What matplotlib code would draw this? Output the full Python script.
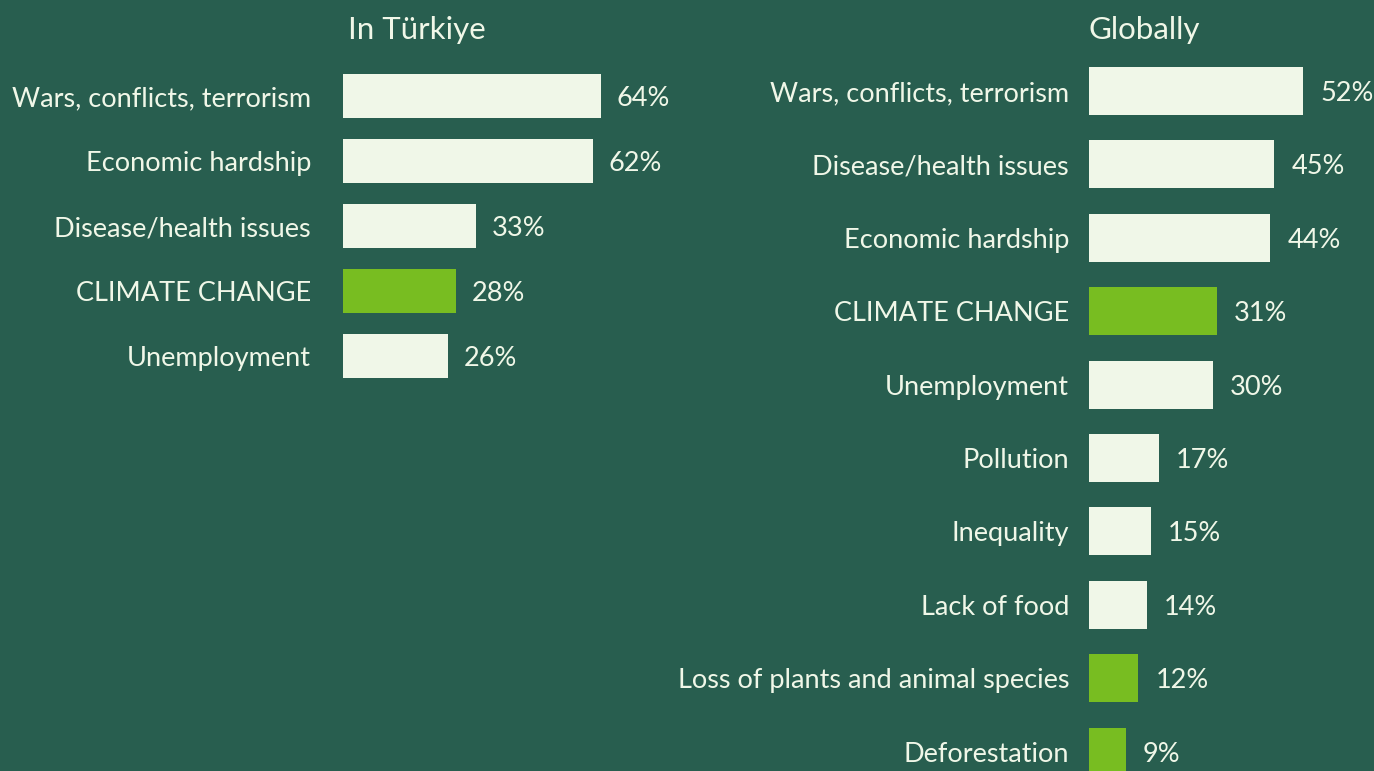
import matplotlib
matplotlib.use("Agg")
import matplotlib.pyplot as plt

# Data
left_title = "In Türkiye"
left_labels = ["Wars, conflicts, terrorism", "Economic hardship", "Disease/health issues",
               "CLIMATE CHANGE", "Unemployment"]
left_values = [64, 62, 33, 28, 26]
left_climate = [False, False, False, True, False]

right_title = "Globally"
right_labels = ["Wars, conflicts, terrorism", "Disease/health issues", "Economic hardship",
                "CLIMATE CHANGE", "Unemployment", "Pollution", "Inequality", "Lack of food",
                "Loss of plants and animal species", "Deforestation"]
right_values = [52, 45, 44, 31, 30, 17, 15, 14, 12, 9]
right_climate = [False, False, False, True, False, False, False, False, True, True]

BG = "#285e4f"
CREAM = "#f0f7e8"
GREEN = "#78bd21"
FONT = "Lato"

W, H = 1374, 771
fig = plt.figure(figsize=(W / 100, H / 100), dpi=100, facecolor=BG)


def panel(x0, px_per_pct, y_first, spacing, bar_h_px, labels, values, climate,
          label_gap, val_gap, fs):
    n = len(labels)
    top = y_first - spacing / 2
    bottom = y_first + spacing * (n - 0.5)
    width_px = px_per_pct * 100
    ax = fig.add_axes([x0 / W, 1 - bottom / H, width_px / W, (bottom - top) / H])
    ax.set_facecolor("none")
    ax.set_xlim(0, 100)
    ax.set_ylim(n - 0.5, -0.5)
    ax.axis("off")
    colors = [GREEN if c else CREAM for c in climate]
    ax.barh(range(n), values, height=bar_h_px / spacing, color=colors, clip_on=False)
    off = label_gap / px_per_pct
    voff = val_gap / px_per_pct
    for i, (lab, v) in enumerate(zip(labels, values)):
        ax.text(-off, i, lab, ha="right", va="center_baseline", color=CREAM, fontsize=fs,
                family=FONT, fontweight="normal", clip_on=False)
        ax.text(v + voff, i, f"{v}%", ha="left", va="center_baseline", color=CREAM, fontsize=fs,
                family=FONT, fontweight="normal", clip_on=False)
    return ax


panel(343, 4.03, 96, 65, 44, left_labels, left_values, left_climate, 32, 16, 19.5)
panel(1089, 4.12, 91, 73.4, 48, right_labels, right_values, right_climate, 20, 17, 19.5)

fig.text(348 / W, 1 - 27.5 / H, left_title, ha="left", va="center_baseline", color=CREAM,
         fontsize=22.5, family=FONT, fontweight="normal")
fig.text(1089 / W, 1 - 27.5 / H, right_title, ha="left", va="center_baseline", color=CREAM,
         fontsize=22.5, family=FONT, fontweight="normal")

fig.savefig("out.png", dpi=100, facecolor=BG)
